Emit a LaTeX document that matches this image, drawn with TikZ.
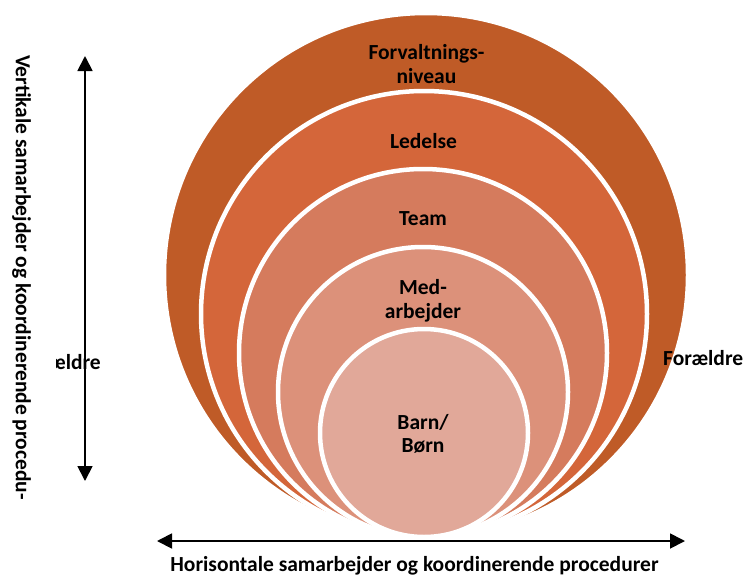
\documentclass[tikz,border=0pt]{standalone}
\usepackage{fontspec}
\setmainfont{Carlito}
\usetikzlibrary{arrows.meta}
\definecolor{ringA}{RGB}{191,91,39}
\definecolor{ringB}{RGB}{212,102,58}
\definecolor{ringC}{RGB}{213,123,93}
\definecolor{ringD}{RGB}{220,145,122}
\definecolor{ringE}{RGB}{225,168,153}
\begin{document}
\begin{tikzpicture}[x=1pt,y=-1pt,
  ring/.style={circle, draw=white, line width=4.5pt, inner sep=0pt},
  lbl/.style={font=\bfseries\fontsize{21.5}{23.5}\selectfont, align=center, inner sep=0pt, text=black},
  axis/.style={line width=1.8pt, {Triangle[width=15pt,length=15pt]}-{Triangle[width=15pt,length=15pt]}}]
\useasboundingbox (0,0) rectangle (744,576);
\node[ring, fill=ringA, minimum size=524pt] (c1) at (426,275) {};
\node[ring, fill=ringB, minimum size=446pt] (c2) at (424,314) {};
\node[ring, fill=ringC, minimum size=368pt] (c3) at (423,353) {};
\node[ring, fill=ringD, minimum size=290pt] (c4) at (423,392) {};
\node[ring, fill=ringE, minimum size=208pt] (c5) at (424,433) {};
\node[lbl] (forv) at (426.5,64) {Forvaltnings-\\niveau};
\node[lbl] (led) at (423.5,141) {Ledelse};
\node[lbl] (team) at (423,219) {Team};
\node[lbl] (med) at (423,301) {Med-\\arbejder};
\node[lbl] (barn) at (423,434) {Barn/\\Børn};
\node[lbl, anchor=base west] (foraeldreR) at (663,365) {Forældre};
\begin{scope}
\clip (56,330) rectangle (130,390);
\node[lbl, anchor=base east] (foraeldreL) at (101,369) {Forældre};
\end{scope}
\node[lbl, rotate=-90, anchor=base] (vlab) at (16,277.5) {Vertikale samarbejder og koordinerende procedu-};
\node[lbl, anchor=base] (hlab) at (414.5,571) {Horisontale samarbejder og koordinerende procedurer};
\coordinate (vtop) at (85,56);
\coordinate (vbot) at (85,481);
\coordinate (hleft) at (157,541);
\coordinate (hright) at (685,541);
\draw[axis] (vbot) -- (vtop);
\draw[axis] (hleft) -- (hright);
\end{tikzpicture}
\end{document}
